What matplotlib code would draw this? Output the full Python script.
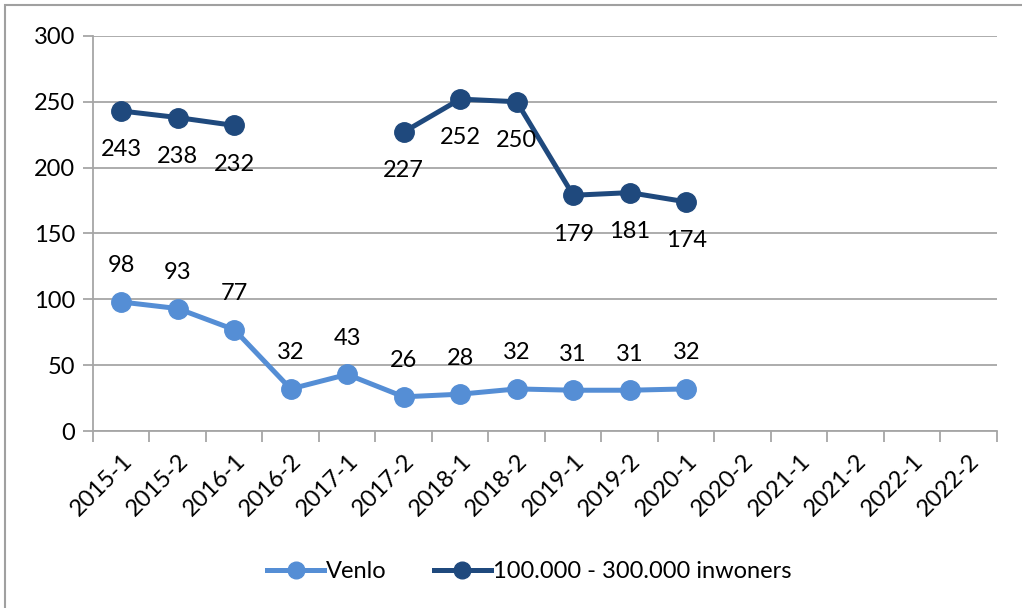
import numpy as np
import matplotlib
matplotlib.use('Agg')
import matplotlib.pyplot as plt
from matplotlib.lines import Line2D

plt.rcParams['font.family'] = ['Lato', 'DejaVu Sans']

# periodes (halfjaren)
periods = ['2015-1', '2015-2', '2016-1', '2016-2', '2017-1', '2017-2',
           '2018-1', '2018-2', '2019-1', '2019-2', '2020-1', '2020-2',
           '2021-1', '2021-2', '2022-1', '2022-2']
venlo = [98, 93, 77, 32, 43, 26, 28, 32, 31, 31, 32]
# gemeenten 100.000 - 300.000 inwoners (geen cijfers voor 2016-2 en 2017-1)
middelgroot = [243, 238, 232, np.nan, np.nan, 227, 252, 250, 179, 181, 174]

c_venlo = '#558ed5'
c_mid = '#1f497d'
grid_c = '#a6a6a6'
fs = 17

fig = plt.figure(figsize=(10.22, 6.08), dpi=100)
ax = fig.add_axes([0.091, 0.291, 0.8845, 0.65])

# rand om de figuur (alleen links en boven zichtbaar)
fig.add_artist(plt.Rectangle((5 / 1022, -0.1), 1.2, 1.1 - 5 / 608,
                             transform=fig.transFigure, fill=False,
                             edgecolor='#a0a0a0', lw=1.5))

x_v = np.arange(len(venlo))
x_m = np.arange(len(middelgroot))

ax.plot(x_v, venlo, color=c_venlo, lw=3.6, marker='o', ms=14,
        solid_capstyle='round', zorder=3)
ax.plot(x_m, middelgroot, color=c_mid, lw=3.6, marker='o', ms=14,
        solid_capstyle='round', zorder=3)

for xi, v in zip(x_v, venlo):
    ax.annotate(str(v), (xi, v), xytext=(0, 26), textcoords='offset points',
                ha='center', va='center', fontsize=fs)
for xi, v in zip(x_m, middelgroot):
    if np.isnan(v):
        continue
    ax.annotate(str(int(v)), (xi, v), xytext=(0, -28), textcoords='offset points',
                ha='center', va='center', fontsize=fs)

ax.set_xlim(-0.5, len(periods) - 0.5)
ax.set_ylim(0, 300)
ax.set_yticks(range(0, 301, 50))
ax.tick_params(axis='y', labelsize=fs, length=7, color=grid_c, width=1.3, pad=6)

# ticks op de grenzen tussen de categorieen, labels in het midden
ax.set_xticks(np.arange(-0.5, len(periods), 1))
ax.set_xticklabels([])
ax.tick_params(axis='x', length=8, color=grid_c, width=1.3)
ax.set_xticks(np.arange(len(periods)), minor=True)
ax.set_xticklabels(periods, minor=True, rotation=45, ha='right',
                   rotation_mode='anchor', fontsize=fs)
ax.tick_params(axis='x', which='minor', length=0, pad=14)

ax.grid(axis='y', color=grid_c, lw=1.3)
ax.set_axisbelow(True)
for s in ['top', 'right']:
    ax.spines[s].set_visible(False)
for s in ['left', 'bottom']:
    ax.spines[s].set_color(grid_c)
    ax.spines[s].set_linewidth(1.3)

handles = [Line2D([], [], color=c_venlo, lw=3.6, marker='o', ms=12),
           Line2D([], [], color=c_mid, lw=3.6, marker='o', ms=12)]
fig.legend(handles, ['Venlo', '100.000 - 300.000 inwoners'],
           loc='center', bbox_to_anchor=(0.518, 0.06), ncol=2, frameon=False,
           fontsize=fs, handlelength=2.4, handletextpad=0.1, columnspacing=2.0)

fig.savefig('out.png', dpi=100)
